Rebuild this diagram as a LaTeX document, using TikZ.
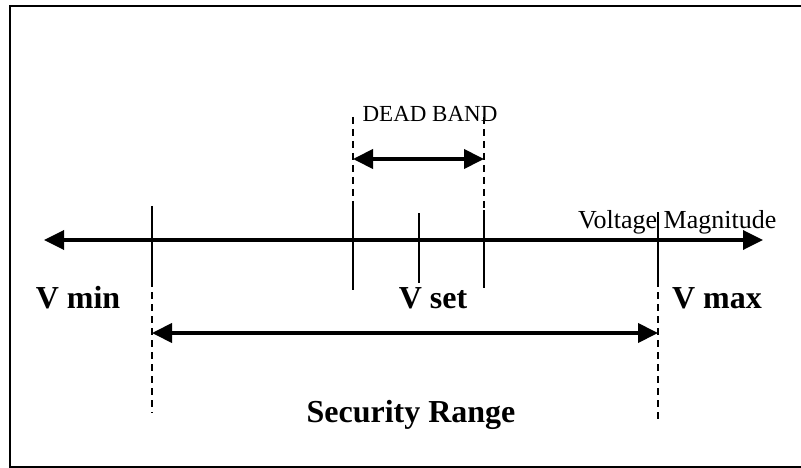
\documentclass[tikz,border=0pt]{standalone}
\usepackage{fontspec}
\setmainfont{Liberation Serif}
\usetikzlibrary{arrows.meta}
\tikzset{
  axisline/.style={line width=3.5pt, -{Triangle[length=20pt,width=19pt]}},
  rangearrow/.style={line width=4pt, {Triangle[length=20pt,width=19pt]}-{Triangle[length=20pt,width=19pt]}},
  tickline/.style={line width=2.3pt},
  dashline/.style={line width=2.3pt, dash pattern=on 7pt off 5pt},
  biglabel/.style={font=\fontsize{32}{36}\selectfont\bfseries, inner sep=0pt, anchor=base},
  smalllabel/.style={font=\fontsize{26}{30}\selectfont, inner sep=0pt, anchor=base},
  framestyle/.style={line width=2.5pt}
}
\begin{document}
\begin{tikzpicture}[x=1pt,y=-1pt]
\useasboundingbox (0,0) rectangle (801,468);
% frame
\draw[framestyle] (812,6) -- (10,6) -- (10,467) -- (812,467);

% main axis
\coordinate (axL) at (44,240);
\coordinate (axR) at (763,240);
\coordinate (axM) at (400,240);
\draw[axisline] (axM) -- (axL);
\draw[axisline] (axM) -- (axR);

% V min line
\coordinate (vminT) at (152,206);
\coordinate (vminM) at (152,280);
\coordinate (vminB) at (152,413);
\draw[tickline] (vminT) -- (vminM);
\draw[dashline] (vminM) -- (vminB);

% V max line
\coordinate (vmaxT) at (658,212);
\coordinate (vmaxM) at (658,280);
\coordinate (vmaxB) at (658,422);
\draw[tickline] (vmaxT) -- (vmaxM);
\draw[dashline] (vmaxM) -- (vmaxB);

% dead band lines
\coordinate (dbLT) at (353,117);
\coordinate (dbLM) at (353,203);
\coordinate (dbLB) at (353,290);
\draw[dashline] (dbLT) -- (dbLM);
\draw[tickline] (dbLM) -- (dbLB);
\coordinate (dbRT) at (484,117);
\coordinate (dbRM) at (484,210);
\coordinate (dbRB) at (484,288);
\draw[dashline] (dbRT) -- (dbRM);
\draw[tickline] (dbRM) -- (dbRB);

% V set tick
\coordinate (vsetT) at (419,213);
\coordinate (vsetB) at (419,283);
\draw[tickline] (vsetT) -- (vsetB);

% dead band arrow
\coordinate (dbA1) at (353,159);
\coordinate (dbA2) at (484,159);
\draw[rangearrow] (dbA1) -- (dbA2);

% security range arrow
\coordinate (srA1) at (152,333);
\coordinate (srA2) at (658,333);
\draw[rangearrow] (srA1) -- (srA2);

% labels
\node[biglabel] (vmin) at (78,308) {V min};
\node[biglabel] (vset) at (433,308) {V set};
\node[biglabel] (vmax) at (717,308) {V max};
\node[biglabel] (secrange) at (411,422) {Security Range};
\node[smalllabel, font=\fontsize{23}{27}\selectfont] (deadband) at (430,122) {DEAD BAND};
\node[smalllabel, anchor=base west] (vmag) at (578,228) {Voltage Magnitude};
\end{tikzpicture}
\end{document}
